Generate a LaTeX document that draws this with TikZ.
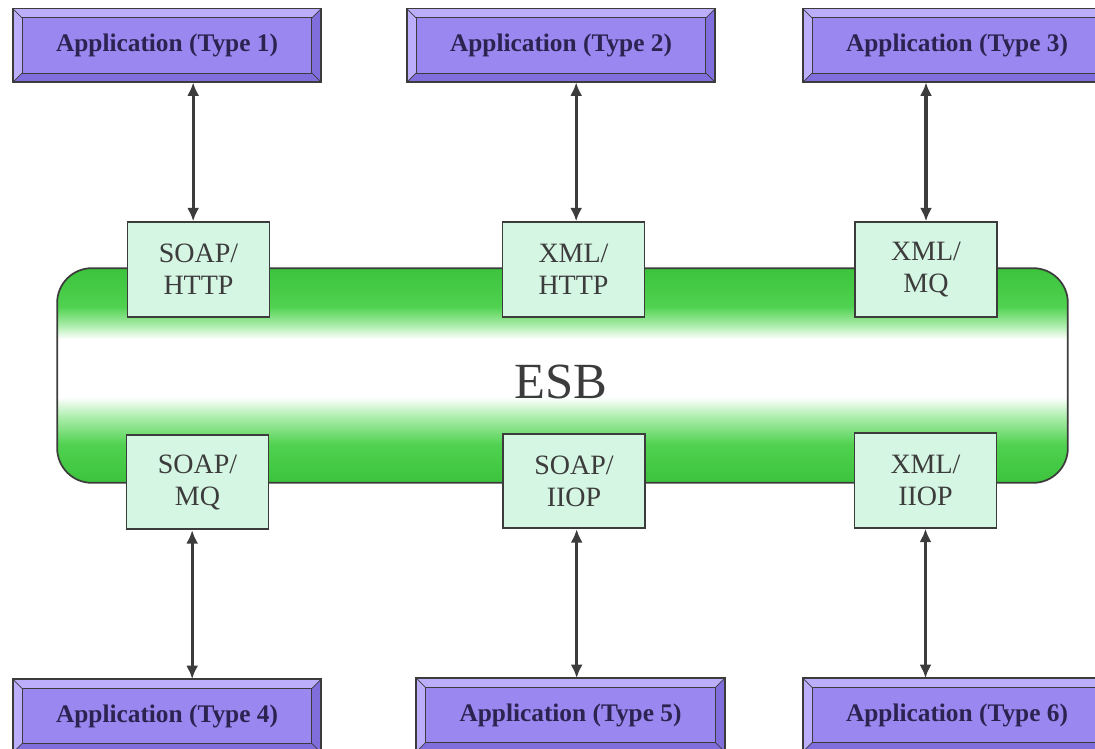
\documentclass[tikz,border=0pt]{standalone}
\usepackage{fontspec}
\setmainfont{Liberation Serif}
\usetikzlibrary{arrows.meta}
\definecolor{appfill}{RGB}{155,135,240}
\definecolor{bevlight}{RGB}{188,174,250}
\definecolor{bevdark}{RGB}{128,110,220}
\definecolor{apptext}{RGB}{45,35,80}
\definecolor{mint}{RGB}{214,246,228}
\definecolor{esbgreen}{RGB}{80,210,80}
\definecolor{esbdeep}{RGB}{60,195,60}
\definecolor{esblight}{RGB}{175,238,175}
\definecolor{lineg}{RGB}{60,60,60}
\pgfdeclareverticalshading{esbshade}{100bp}{color(0bp)=(esbdeep); color(25bp)=(esbdeep); color(34bp)=(esbgreen); color(40.5bp)=(esblight); color(45bp)=(white); color(58.5bp)=(white); color(61.5bp)=(esblight); color(66bp)=(esbgreen); color(75bp)=(esbdeep); color(100bp)=(esbdeep)}
\newcommand\appbevel[1]{%
  \fill[bevlight] (#1.north west) -- (#1.north east) -- ([xshift=-7pt,yshift=-7pt]#1.north east) -- ([xshift=7pt,yshift=-7pt]#1.north west) -- cycle;
  \fill[bevlight] (#1.north west) -- (#1.south west) -- ([xshift=7pt,yshift=7pt]#1.south west) -- ([xshift=7pt,yshift=-7pt]#1.north west) -- cycle;
  \fill[bevdark] (#1.south west) -- (#1.south east) -- ([xshift=-7pt,yshift=7pt]#1.south east) -- ([xshift=7pt,yshift=7pt]#1.south west) -- cycle;
  \fill[bevdark] (#1.north east) -- (#1.south east) -- ([xshift=-7pt,yshift=7pt]#1.south east) -- ([xshift=-7pt,yshift=-7pt]#1.north east) -- cycle;
  \draw[lineg, line width=0.8pt] ([xshift=7pt,yshift=-7pt]#1.north west) rectangle ([xshift=-7pt,yshift=7pt]#1.south east);
  \draw[lineg, line width=0.5pt] (#1.north west) -- ([xshift=7pt,yshift=-7pt]#1.north west)
    (#1.north east) -- ([xshift=-7pt,yshift=-7pt]#1.north east)
    (#1.south west) -- ([xshift=7pt,yshift=7pt]#1.south west)
    (#1.south east) -- ([xshift=-7pt,yshift=7pt]#1.south east);
  \draw[lineg, line width=1.4pt] (#1.north west) rectangle (#1.south east);
}
\tikzset{
  app/.style={rectangle, fill=appfill, draw=lineg, line width=1.4pt,
    minimum width=230pt, minimum height=54pt, inner sep=0pt,
    text=apptext, font=\fontsize{19}{22}\selectfont\bfseries},
  proto/.style={rectangle, fill=mint, draw=lineg, line width=1.3pt,
    minimum width=106.5pt, minimum height=71pt, inner sep=0pt, align=center,
    text=lineg, font=\fontsize{21}{24}\selectfont},
  bus/.style={rectangle, rounded corners=26pt, draw=lineg, line width=1.3pt,
    shading=esbshade, minimum width=758pt, minimum height=161pt, inner sep=0pt},
  conn/.style={draw=lineg, line width=2.3pt, {Latex[length=10pt,width=9pt]}-{Latex[length=10pt,width=9pt]}},
}
\begin{document}
\begin{tikzpicture}[x=0.75pt, y=-0.75pt]
\useasboundingbox (0,0) rectangle (1095,749);
% bus
\node[bus] (esb) at (562.5,375.5) {};
\node[anchor=base, text=lineg, font=\fontsize{38}{40}\selectfont, inner sep=0pt] (esbl) at (561,398) {ESB};
% protocol boxes
\node[proto] (s1) at (198.5,269.5) {SOAP/\\HTTP};
\node[proto] (s2) at (573.5,269.5) {XML/\\HTTP};
\node[proto] (s3) at (926,269.5) {XML/\\MQ};
\node[proto] (s4) at (197.5,482) {SOAP/\\MQ};
\node[proto] (s5) at (574,481) {SOAP/\\IIOP};
\node[proto] (s6) at (925.5,480.5) {XML/\\IIOP};
% applications
\node[app] (a1) at (167,45.5) {Application (Type 1)};
\node[app] (a2) at (561,45.5) {Application (Type 2)};
\node[app] (a3) at (957,45.5) {Application (Type 3)};
\node[app] (a4) at (167,716) {Application (Type 4)};
\node[app] (a5) at (570.5,715) {Application (Type 5)};
\node[app] (a6) at (957,715) {Application (Type 6)};
\appbevel{a1}\appbevel{a2}\appbevel{a3}\appbevel{a4}\appbevel{a5}\appbevel{a6}
% connectors
\draw[conn] ([xshift=-4pt]s1.north |- a1.south) -- ([xshift=-4pt]s1.north);
\draw[conn] ([xshift=2pt]s2.north |- a2.south) -- ([xshift=2pt]s2.north);
\draw[conn] (s3.north |- a3.south) -- (s3.north);
\draw[conn] ([xshift=-4pt]s4.south) -- ([xshift=-4pt]s4.south |- a4.north);
\draw[conn] ([xshift=2pt]s5.south) -- ([xshift=2pt]s5.south |- a5.north);
\draw[conn] (s6.south) -- (s6.south |- a6.north);
\end{tikzpicture}
\end{document}
